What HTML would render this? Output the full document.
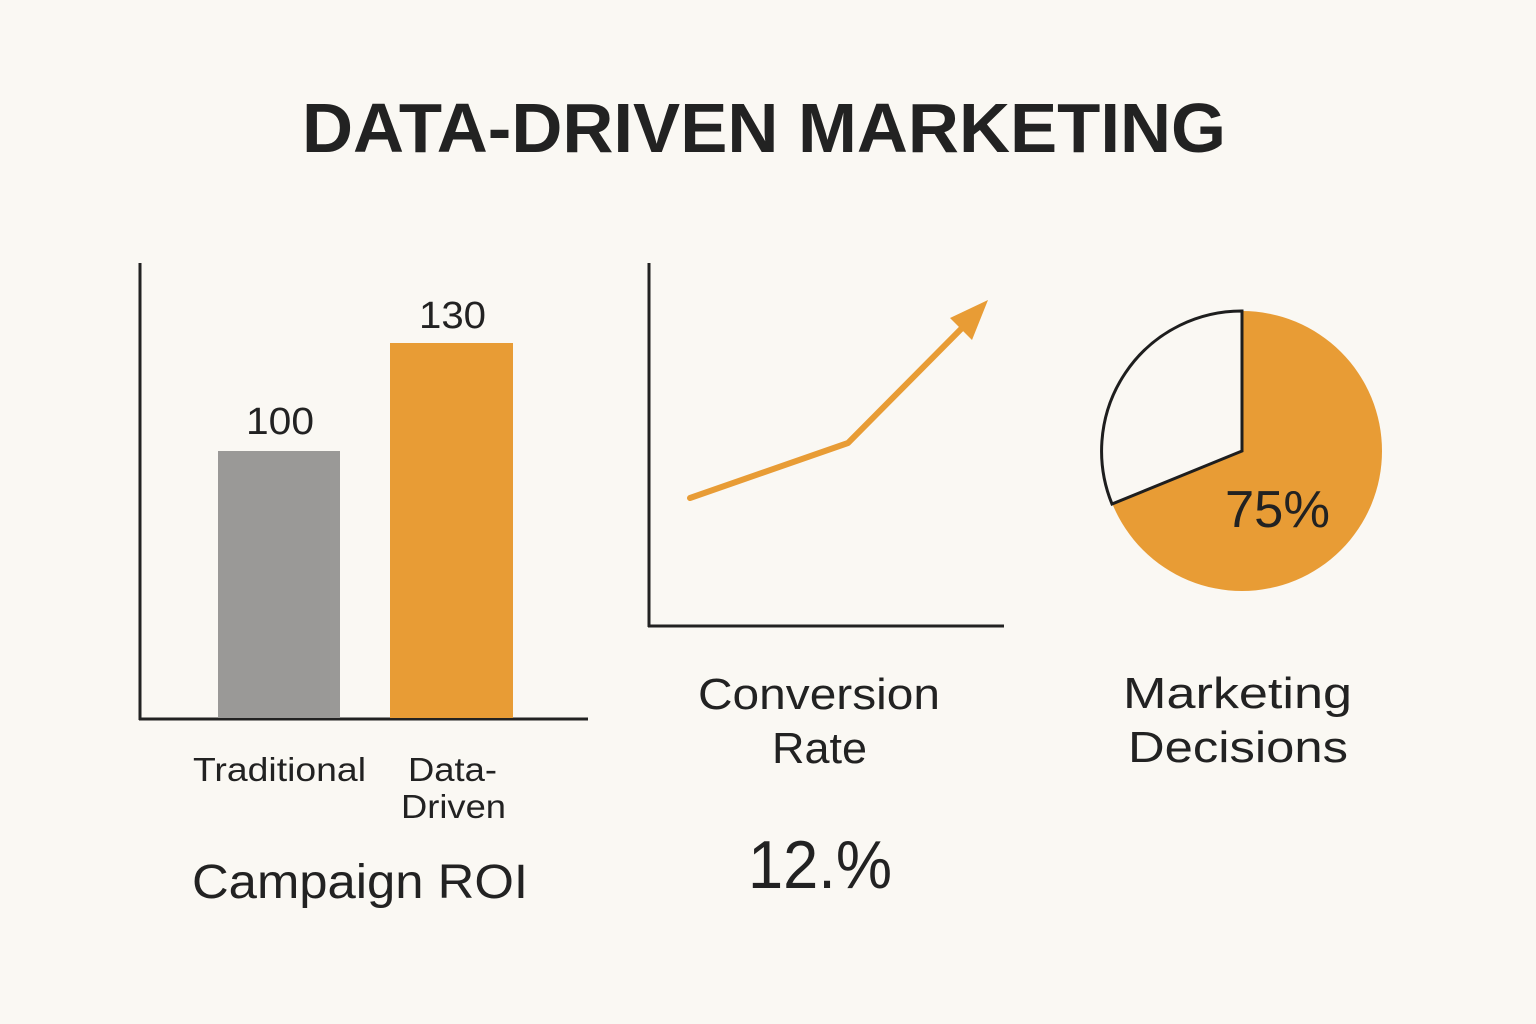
<!DOCTYPE html>
<html><head><meta charset="utf-8"><style>
html,body{margin:0;padding:0;background:#faf8f3;}
svg{display:block}
text{font-family:"Liberation Sans","DejaVu Sans",sans-serif;fill:#222;}
</style></head><body>
<svg width="1536" height="1024" viewBox="0 0 1536 1024" xmlns="http://www.w3.org/2000/svg">
<rect width="1536" height="1024" fill="#faf8f3"/>
<text x="302" y="152" font-size="70" font-weight="bold" textLength="924" lengthAdjust="spacingAndGlyphs">DATA-DRIVEN MARKETING</text>

<!-- bar chart -->
<line x1="140" y1="263" x2="140" y2="720" stroke="#222" stroke-width="3"/>
<line x1="139" y1="719" x2="588" y2="719" stroke="#222" stroke-width="3"/>
<rect x="218" y="451" width="122" height="267" fill="#9a9997"/>
<rect x="390" y="343" width="123" height="375" fill="#e89c35"/>
<text x="246" y="434" font-size="38" textLength="68" lengthAdjust="spacingAndGlyphs">100</text>
<text x="419" y="328" font-size="38" textLength="67" lengthAdjust="spacingAndGlyphs">130</text>
<text x="193" y="781" font-size="33" textLength="173" lengthAdjust="spacingAndGlyphs">Traditional</text>
<text x="408" y="781" font-size="33" textLength="89" lengthAdjust="spacingAndGlyphs">Data-</text>
<text x="401" y="818" font-size="33" textLength="105" lengthAdjust="spacingAndGlyphs">Driven</text>
<text x="192" y="898" font-size="48" textLength="336" lengthAdjust="spacingAndGlyphs">Campaign ROI</text>

<!-- line chart -->
<line x1="649" y1="263" x2="649" y2="627" stroke="#222" stroke-width="3"/>
<line x1="648" y1="626" x2="1004" y2="626" stroke="#222" stroke-width="3"/>
<polyline points="690,498 848,443 968,322" fill="none" stroke="#e89c35" stroke-width="6" stroke-linecap="round" stroke-linejoin="round"/>
<polygon points="988,300 950,318 972,340" fill="#e89c35"/>
<text x="698" y="709" font-size="44" textLength="242" lengthAdjust="spacingAndGlyphs">Conversion</text>
<text x="772" y="763" font-size="44" textLength="95" lengthAdjust="spacingAndGlyphs">Rate</text>
<text x="748" y="888" font-size="68" textLength="144" lengthAdjust="spacingAndGlyphs">12.%</text>

<!-- pie -->
<circle cx="1242" cy="451" r="140" fill="#e89c35"/>
<path d="M1242,451 L1242,311 A140,140 0 0 0 1112,504 Z" fill="#faf8f3" stroke="#1e1e1e" stroke-width="3" stroke-linejoin="miter"/>
<text x="1225" y="527" font-size="52" textLength="105" lengthAdjust="spacingAndGlyphs">75%</text>
<text x="1123" y="708" font-size="44" textLength="229" lengthAdjust="spacingAndGlyphs">Marketing</text>
<text x="1128" y="762" font-size="44" textLength="220" lengthAdjust="spacingAndGlyphs">Decisions</text>
</svg>
</body></html>
